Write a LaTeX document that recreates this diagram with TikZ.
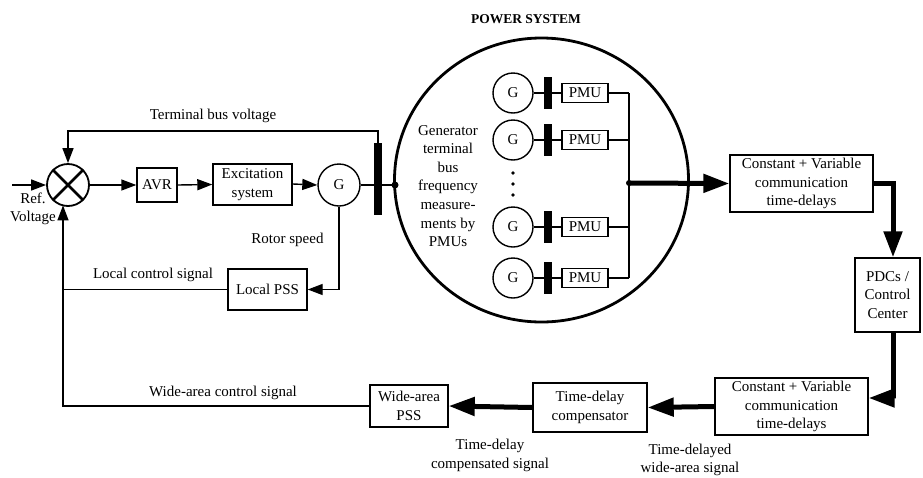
\documentclass[tikz,border=0pt]{standalone}
\usepackage{fontspec}
\setmainfont{Liberation Serif}
\usetikzlibrary{arrows.meta,shapes.geometric,calc}
\begin{document}
\begin{tikzpicture}[x=1pt,y=-1pt,
  txt/.style={font=\fontsize{15}{18.6}\selectfont, align=center, inner sep=0pt},
  box/.style={txt, draw, line width=1.4pt, inner sep=0pt},
  gen/.style={txt, draw, circle, line width=1.4pt, inner sep=0pt},
  busbar/.style={fill=black, draw=none, rectangle, minimum width=8pt, inner sep=0pt},
  thin/.style={line width=1.4pt},
  thinarrow/.style={line width=1.4pt, -{Triangle[length=15pt,width=11pt]}},
  thickarrow/.style={line width=5pt, -{Triangle[length=26pt,width=18pt]}},
  thickline/.style={line width=5pt}
]
\useasboundingbox (0,0) rectangle (923,477);

% title
\node[txt, font=\fontsize{13.5}{16}\selectfont\bfseries] (title) at (526,19) {POWER SYSTEM};

% power system ellipse
\node[draw, ellipse, line width=2.8pt, minimum width=294pt, minimum height=284pt, inner sep=0pt] (ps) at (541.5,180) {};

% summing junction
\node[draw, circle, line width=1.8pt, minimum size=42pt, inner sep=0pt] (sum) at (68,185) {};
\draw[line width=2.5pt] (sum.north west) -- (sum.south east);
\draw[line width=2.5pt] (sum.north east) -- (sum.south west);
\coordinate (in) at (12,185);
\draw[thinarrow] (in) -- (sum.west);
\node[txt] (ref) at (33,209) {Ref.\\Voltage};

% forward path
\node[box, minimum width=40pt, minimum height=34pt] (avr) at (157,185) {AVR};
\node[box, minimum width=79pt, minimum height=41pt] (exc) at (252.5,184.5) {Excitation\\system};
\node[gen, minimum size=42pt] (g) at (339,185) {G};
\node[busbar, minimum height=72pt] (bus) at (378,179) {};
\coordinate (bdot) at (395,185);
\draw[thinarrow] (sum.east) -- (avr.west);
\draw[thinarrow] (avr.east) -- (exc.west);
\draw[thinarrow] ([yshift=0.5pt]exc.east) -- (g.west);
\draw[thin] (g.east) -- (bdot);
\fill (bdot) circle (3.5pt);

% terminal bus voltage feedback
\coordinate (tb) at (378,131);
\draw[thinarrow] (bus.north) -- (tb) -| (sum.north);
\node[txt] (tbl) at (213,116) {Terminal bus voltage};

% local PSS
\node[box, minimum width=79pt, minimum height=41pt] (lpss) at (267.5,289.5) {Local PSS};
\draw[thinarrow] (g.south) |- (lpss.east);
\node[txt] (rsl) at (287.5,240) {Rotor speed};
\coordinate (lc) at (63,406);
\coordinate (sb) at (63,205.4);
\draw[thin] (lpss.west) -- (lpss.west -| lc);
\node[txt] (lcl) at (153,275) {Local control signal};

% wide-area path
\node[box, minimum width=78pt, minimum height=42pt] (wpss) at (409,406) {Wide-area\\PSS};
\node[box, minimum width=114pt, minimum height=49pt] (comp) at (590,407.5) {Time-delay\\compensator};
\node[box, minimum width=153pt, minimum height=57pt] (ld) at (791.5,406.5) {Constant + Variable\\communication\\time-delays};
\draw[thinarrow] (wpss.west) -| (sb);
\node[txt] (wcl) at (223,393) {Wide-area control signal};
\draw[thickarrow] (comp.west) -- (wpss.east);
\draw[thickarrow] (ld.west) -- (comp.east);
\node[txt] (tdc) at (490,455.5) {Time-delay\\compensated signal};
\node[txt, font=\fontsize{15}{17.5}\selectfont] (tdw) at (690,460) {Time-delayed\\wide-area signal};

% communication to PDC
\node[box, minimum width=143pt, minimum height=57pt] (ud) at (801.5,183.5) {Constant + Variable\\communication\\time-delays};
\node[box, minimum width=65pt, minimum height=74pt] (pdc) at (887.5,295) {PDCs /\\Control\\Center};
\coordinate (c1) at (893,183.5);
\coordinate (c2) at ($(ld.east)+(0,-8.5)$);
\draw[thickarrow] (ud.east) -- (c1) -- (c1 |- pdc.north);
\draw[thickarrow] (c1 |- pdc.south) -- (c1 |- c2) -- (c2);

% inside the power system
\node[txt] (gtext) at (448,186) {Generator\\terminal\\bus\\frequency\\measure-\\ments by\\PMUs};
\coordinate (col) at (629,183);
\foreach \i/\y in {1/93,2/140,3/227,4/278} {
  \node[gen, minimum size=40pt] (pg\i) at (513,\y) {G};
  \node[busbar, minimum height=32pt] (pb\i) at (548,\y) {};
  \node[box, minimum width=46pt, minimum height=19pt] (pm\i) at (585,\y) {PMU};
  \draw[thin] (pg\i.east) -- (pm\i.west);
  \draw[thin] (pm\i.east) -- (pm\i.east -| col);
}
\draw[thin] (pm1.east -| col) -- (pm4.east -| col);
\fill (col) circle (3pt);
\fill (513,173) circle (1.8pt);
\fill (513,184) circle (1.8pt);
\fill (513,195) circle (1.8pt);
\draw[thickarrow] (col) -- (ud.west);
\end{tikzpicture}
\end{document}
